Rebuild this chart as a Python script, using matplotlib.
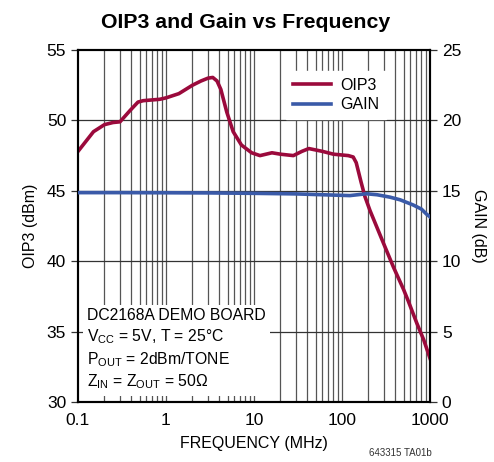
import matplotlib
matplotlib.use('Agg')
import matplotlib.pyplot as plt
from matplotlib.ticker import FixedLocator, NullFormatter, NullLocator

# data
oip3_freq = [0.1, 0.15, 0.2, 0.25, 0.3, 0.39, 0.48, 0.55, 0.85, 1.0, 1.4, 2.0,
             2.5, 3.0, 3.4, 3.8, 4.2, 4.9, 5.8, 7.2, 9.4, 11.7, 16, 20, 28, 35,
             42, 60, 80, 118, 134, 145, 165, 182, 208, 295, 383, 500, 564, 708,
             850, 1000]
oip3_dbm = [47.8, 49.2, 49.7, 49.85, 49.9, 50.7, 51.3, 51.4, 51.5, 51.6, 51.9,
            52.5, 52.8, 53.0, 53.05, 52.8, 52.2, 50.6, 49.2, 48.25, 47.7, 47.5,
            47.7, 47.6, 47.5, 47.8, 48.0, 47.8, 47.6, 47.5, 47.4, 47.0, 45.6,
            44.6, 43.6, 41.3, 39.6, 38.0, 37.2, 35.6, 34.4, 33.1]

gain_freq = [0.1, 0.3, 1, 3, 10, 30, 60, 123, 150, 189, 250, 350, 458, 640,
             800, 910, 1000]
gain_db = [14.87, 14.87, 14.86, 14.85, 14.82, 14.78, 14.72, 14.66, 14.72,
           14.79, 14.72, 14.55, 14.36, 14.0, 13.7, 13.35, 13.15]

x_ticks = [0.1, 1, 10, 100, 1000]
x_ticklabels = ['0.1', '1', '10', '100', '1000']
left_ticks = [30, 35, 40, 45, 50, 55]
right_ticks = [0, 5, 10, 15, 20, 25]

FONT = ['Liberation Sans Narrow', 'Liberation Sans', 'DejaVu Sans']
plt.rcParams['font.family'] = FONT
plt.rcParams['mathtext.fontset'] = 'custom'
plt.rcParams['mathtext.rm'] = 'Liberation Sans'

RED = '#9b0a3c'
BLUE = '#3a5aa8'

fig = plt.figure(figsize=(4.94, 4.62), dpi=100)
ax = fig.add_axes([78 / 494, 60 / 462, 352 / 494, 352 / 462])
ax2 = ax.twinx()

ax.set_xscale('log')
ax.set_xlim(0.1, 1000)
ax.set_ylim(30, 55)
ax2.set_ylim(0, 25)

# grid: horizontal at majors, vertical at every log decade step
minors = [m * 10 ** e for e in range(-1, 3) for m in range(2, 10)]
for f in minors + x_ticks[1:-1]:
    ax.axvline(f, color='#555555', lw=0.9, zorder=0)
for v in left_ticks[1:-1]:
    ax.axhline(v, color='#333333', lw=0.9, zorder=0)

ax.xaxis.set_major_locator(FixedLocator(x_ticks))
ax.xaxis.set_minor_locator(NullLocator())
ax.set_xticklabels(x_ticklabels)
ax.xaxis.set_minor_formatter(NullFormatter())
ax.set_yticks(left_ticks)
ax2.set_yticks(right_ticks)
ax.tick_params(axis='x', length=0, pad=8, labelsize=12.5)
ax.tick_params(axis='y', direction='out', length=5, width=0.9, labelsize=12.5,
               color='#333333')
ax2.tick_params(axis='y', direction='out', length=5, width=0.9, labelsize=12.5,
                color='#333333')

for sp in ax.spines.values():
    sp.set_linewidth(1.5)
for sp in ax2.spines.values():
    sp.set_linewidth(1.5)

ax.set_xlabel('FREQUENCY (MHz)', fontsize=11.5, labelpad=6)
ax.set_ylabel('OIP3 (dBm)', fontsize=11.5, labelpad=6)
ax2.set_ylabel('GAIN (dB)', fontsize=11.5, rotation=270, labelpad=18)

ax.plot(oip3_freq, oip3_dbm, color=RED, lw=2.6, zorder=5, label='OIP3')
ax.plot([], [], color=BLUE, lw=2.6, label='GAIN')
ax2.plot(gain_freq, gain_db, color=BLUE, lw=2.6, zorder=5)

leg = ax.legend(loc='upper right', bbox_to_anchor=(0.875, 0.94),
                fontsize=11.5, frameon=True, fancybox=False, framealpha=1,
                edgecolor='white', handlelength=2.4, handletextpad=0.6,
                borderpad=0.4, labelspacing=0.3, borderaxespad=0)
leg.set_zorder(10)

note = ('DC2168A DEMO BOARD\n'
        r'$\mathrm{V_{CC}}$ = 5V, T = 25°C' '\n'
        r'$\mathrm{P_{OUT}}$ = 2dBm/TONE' '\n'
        r'$\mathrm{Z_{IN}}$ = $\mathrm{Z_{OUT}}$ = 50Ω')
ax.text(0.025, 0.03, note, transform=ax.transAxes, fontsize=11.3,
        va='bottom', ha='left', linespacing=1.3, zorder=10,
        bbox=dict(facecolor='white', edgecolor='none', pad=3))

fig.text(0.497, 0.951, 'OIP3 and Gain vs Frequency', ha='center', va='center',
         fontsize=15.3, fontweight='bold')
fig.text(0.81, 0.008, '643315 TA01b', ha='center', va='bottom', fontsize=7,
         color='#333333')

fig.savefig('out.png', dpi=100)
